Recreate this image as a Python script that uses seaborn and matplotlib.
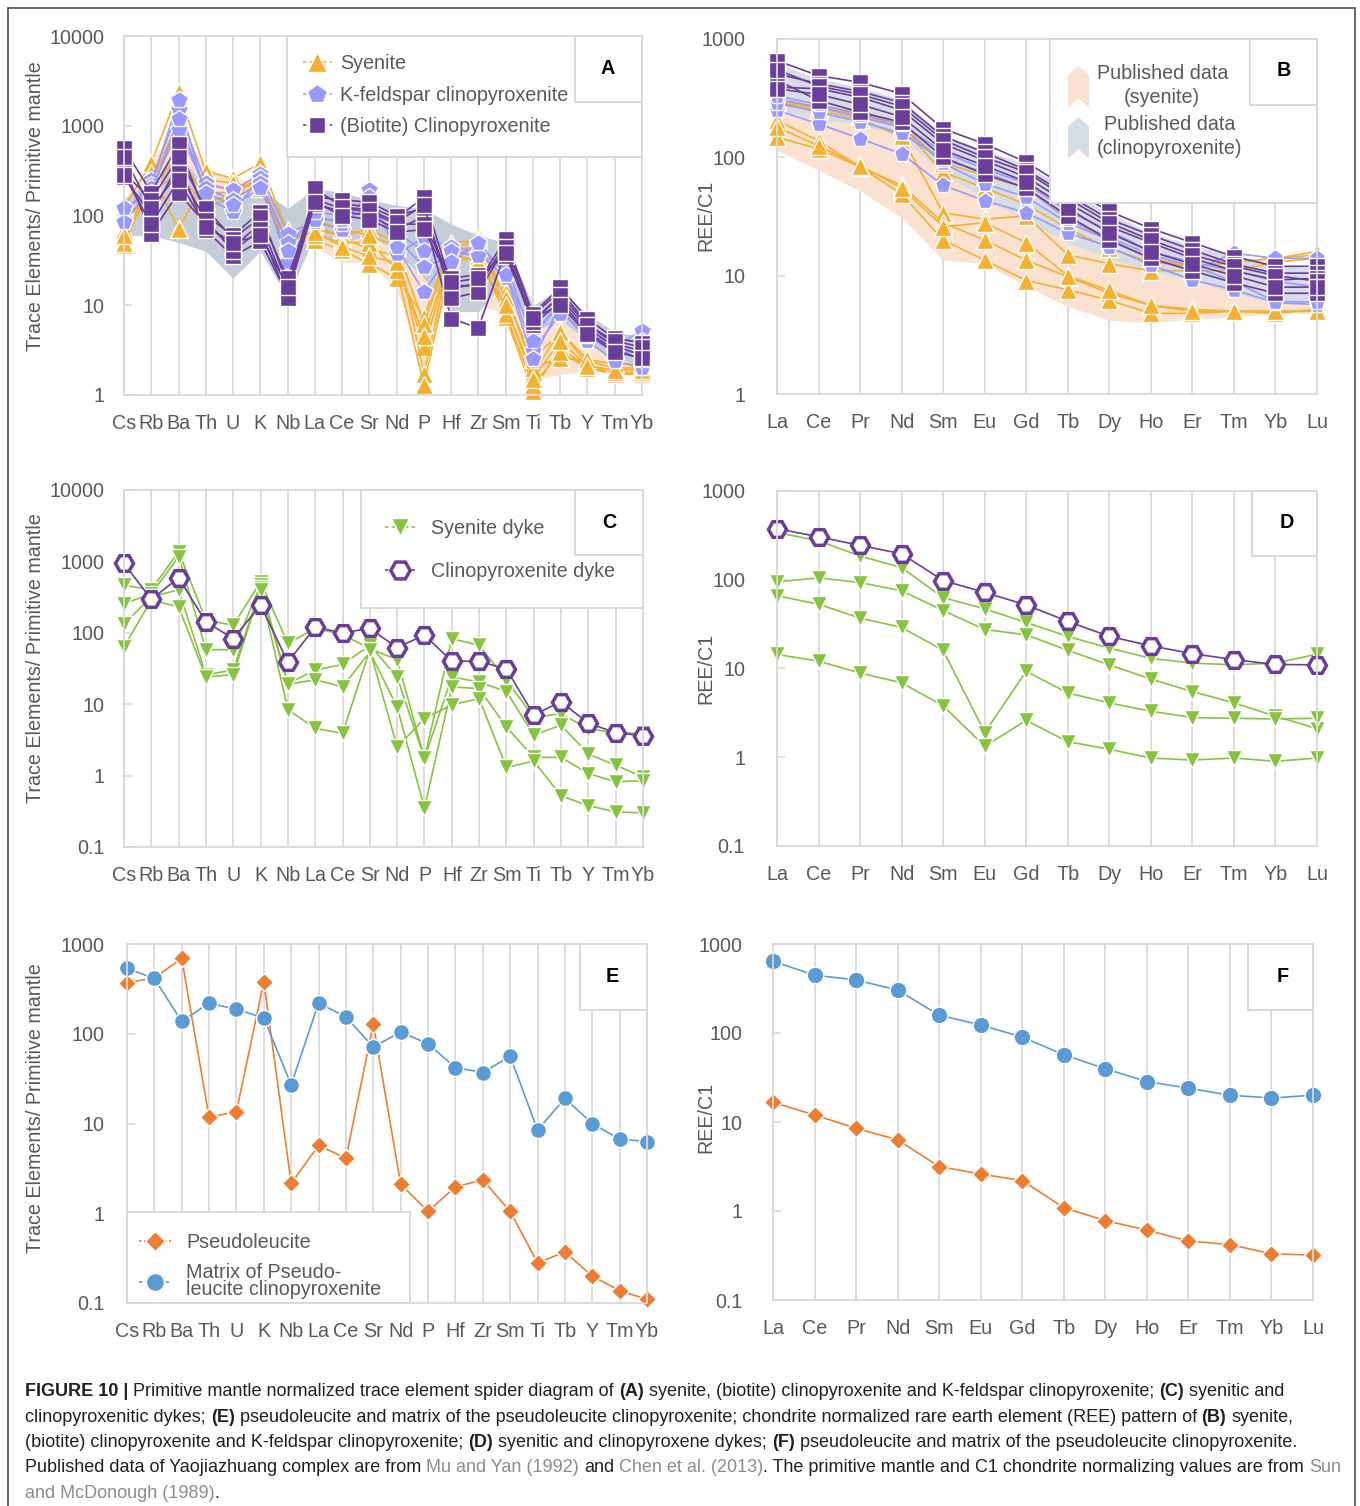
import numpy as np
import pandas as pd
import matplotlib
matplotlib.use('Agg')
import matplotlib.pyplot as plt
import seaborn as sns
from matplotlib.lines import Line2D
from matplotlib.patches import Rectangle
from matplotlib.path import Path
from matplotlib.ticker import FixedLocator, NullLocator

sns.set_theme(style='white')
plt.rcParams['font.family'] = ['Liberation Sans', 'DejaVu Sans']

W, H = 1360, 1506

# ---------------- categories ----------------
TRACE = ['Cs', 'Rb', 'Ba', 'Th', 'U', 'K', 'Nb', 'La', 'Ce', 'Sr', 'Nd', 'P',
         'Hf', 'Zr', 'Sm', 'Ti', 'Tb', 'Y', 'Tm', 'Yb']
REE = ['La', 'Ce', 'Pr', 'Nd', 'Sm', 'Eu', 'Gd', 'Tb', 'Dy', 'Ho', 'Er', 'Tm', 'Yb', 'Lu']

# ---------------- panel A (primitive-mantle normalised) ----------------
a_syenite = [
    [125, 380, 2400, 310, 260, 380, 69, 53, 41, 29, 20, 7.4, 49, 53, 9.5, 1.7, 5.2, 2.2, 1.7, 1.7],
    [69, 250, 900, 210, 200, 240, 45, 80, 55, 43, 35, 3.4, 35, 40, 7.4, 1.1, 3.4, 2.0, 1.7, 1.8],
    [58, 200, 270, 135, 150, 300, 37, 70, 60, 70, 50, 1.7, 40, 45, 14, 2.0, 2.6, 2.4, 2.0, 2.0],
    [47, 300, 71, 250, 230, 200, 40, 60, 50, 50, 25, 1.3, 30, 35, 8, 1.3, 3.0, 2.0, 1.8, 1.8],
    [50, 220, 1200, 180, 180, 260, 50, 90, 70, 60, 45, 6.2, 45, 50, 12, 2.5, 5.0, 2.5, 2.2, 2.2],
    [60, 180, 500, 150, 160, 220, 55, 65, 45, 35, 30, 4.5, 38, 30, 10, 1.5, 4.0, 2.1, 1.9, 1.9],
]
a_kfs = [
    [97, 250, 1500, 230, 190, 290, 63, 85, 69, 190, 37, 57, 45, 39, 20, 5.2, 9.5, 4.0, 2.4, 2.0],
    [110, 220, 1950, 160, 110, 260, 30, 100, 80, 130, 55, 27, 35, 45, 25, 3.1, 8.0, 5.0, 3.5, 5.2],
    [85, 200, 900, 200, 150, 230, 50, 90, 90, 160, 45, 14, 40, 35, 30, 4.0, 12, 4.5, 3.0, 3.0],
    [120, 180, 1200, 180, 130, 200, 40, 110, 100, 110, 65, 40, 30, 50, 22, 2.5, 10, 5.5, 4.0, 4.0],
]
a_bcpx = [
    [560, 180, 620, 100, 60, 110, 17, 180, 135, 125, 93, 160, 17, 16, 49, 7.7, 14.5, 6.2, 3.7, 3.1],
    [270, 100, 380, 69, 35, 52, 13, 135, 110, 100, 70, 97, 7.1, 5.6, 40, 6.0, 11, 5.0, 3.2, 2.5],
    [350, 63, 180, 80, 45, 80, 15, 160, 150, 140, 100, 120, 15, 18, 55, 8.0, 16, 7.0, 4.3, 3.8],
    [300, 150, 450, 120, 55, 95, 20, 150, 120, 110, 80, 80, 20, 22, 35, 7.0, 12, 5.5, 3.5, 2.8],
    [450, 120, 300, 90, 40, 70, 12, 200, 125, 115, 85, 130, 12, 14, 45, 6.5, 13, 6.0, 4.0, 3.4],
    [280, 80, 250, 75, 50, 60, 16, 140, 100, 90, 65, 70, 18, 20, 38, 7.2, 10, 4.8, 3.0, 2.6],
]
a_pub_sye_hi = [150, 400, 1000, 350, 250, 250, 70, 150, 120, 110, 70, 30, 50, 70, 30, 6, 10, 6, 3.5, 3.5]
a_pub_sye_lo = [60, 120, 150, 60, 50, 70, 40, 45, 30, 30, 15, 2, 20, 10, 8, 1.5, 1.7, 1.8, 1.9, 1.9]
a_pub_cpx_hi = [150, 250, 500, 200, 150, 200, 120, 200, 180, 150, 130, 120, 80, 60, 50, 10, 15, 8, 5, 4.5]
a_pub_cpx_lo = [60, 60, 50, 40, 20, 40, 12, 60, 50, 60, 40, 20, 8.5, 8.5, 20, 5, 7, 4, 2.5, 2.2]

# ---------------- panel B (chondrite normalised) ----------------
b_syenite = [
    [290, 260, 230, 180, 75, 55, 40, 25, 17, 13, 12, 13, 14, 15],
    [280, 250, 210, 150, 34, 30, 32, 15, 12.6, 11, 11, 11, 13, 14],
    [205, 138, 83, 58, 28, 20, 13.5, 9.8, 7.1, 5.6, 5.2, 5.0, 5.0, 5.0],
    [148, 118, 83, 49, 20, 13.5, 9.1, 7.6, 6.2, 4.8, 4.8, 5.0, 4.8, 5.2],
    [180, 125, 85, 55, 26, 28, 19, 10, 7.5, 5.6, 5.0, 5.0, 5.0, 5.0],
    [300, 270, 240, 190, 90, 70, 55, 30, 20, 14, 12, 13, 14, 16],
]
b_kfs = [
    [250, 192, 144, 107, 58, 43, 34, 23, 17.5, 12.3, 9.2, 7.6, 5.9, 5.7],
    [312, 265, 218, 180, 89, 60, 46, 28, 20, 14, 11, 15.5, 14, 14],
    [290, 240, 200, 160, 95, 75, 55, 30, 21, 15, 12, 9, 6, 6],
    [330, 280, 230, 190, 110, 80, 60, 35, 24, 16, 13, 11, 9, 8],
]
b_bcpx = [
    [656, 490, 430, 345, 174, 130, 91, 55, 35, 25, 19, 14.5, 12, 12],
    [507, 420, 360, 290, 150, 110, 78, 48, 30, 22, 16.5, 12.5, 10.5, 10.5],
    [392, 380, 322, 250, 130, 94, 68, 41, 26, 19, 14, 11, 9.2, 9.5],
    [450, 302, 241, 198, 100, 72, 55, 32, 20, 14, 11, 8.7, 7.1, 7.1],
    [550, 400, 340, 270, 140, 100, 75, 45, 28, 20, 15, 12, 10, 9],
    [380, 340, 280, 220, 115, 85, 62, 37, 23, 16, 12.5, 10, 8, 8],
]
b_pub_sye_hi = [300, 260, 220, 170, 70, 50, 38, 22, 15, 12, 10.5, 10, 10, 10]
b_pub_sye_lo = [115, 78, 52, 31, 13.5, 12.7, 8.1, 5.5, 4.2, 4.0, 4.3, 4.5, 4.8, 4.8]
b_pub_cpx_hi = [620, 460, 390, 310, 155, 115, 88, 52, 34, 23, 18, 15, 12.5, 11.5]
b_pub_cpx_lo = [250, 210, 190, 150, 72, 46, 29, 19, 14, 11, 9.2, 7.1, 5.9, 6.0]

# ---------------- panel C / D (dykes) ----------------
c_syenite_dyke = [
    [465, 400, 1370, 150, 128, 515, 71, 115, 95, 60, 42, 1.74, 83, 67, 22, 6.5, 7.4, 4.5, 4.0, 3.9],
    [257, 350, 1170, 58, 58, 465, 19.5, 30, 36, 67, 24, 1.74, 24, 20.5, 15, 3.7, 5.1, 2.0, 1.4, 0.95],
    [132, 320, 400, 26, 30, 420, 19, 22, 17.5, 54, 9.1, 0.35, 17.5, 16.5, 4.8, 1.8, 1.8, 1.07, 0.82, 0.85],
    [63, 290, 230, 24, 26, 400, 8.4, 4.6, 3.9, 58, 2.5, 6.3, 9.8, 12, 1.3, 1.6, 0.52, 0.38, 0.31, 0.30],
]
c_cpx_dyke = [935, 294, 590, 142, 83, 245, 39, 120, 100, 115, 62, 93, 40, 40, 31, 7.1, 10.8, 5.4, 4.0, 3.6]

d_syenite_dyke = [
    [340, 275, 185, 137, 63, 47, 33, 23, 17, 13, 11.5, 11, 11.5, 14.5],
    [95, 105, 93, 75, 45, 27.5, 24, 16, 11, 7.6, 5.5, 4.1, 2.9, 2.1],
    [66, 53, 37, 29, 16, 1.9, 9.3, 5.3, 4.1, 3.3, 2.8, 2.75, 2.7, 2.75],
    [14.4, 12.1, 8.9, 6.9, 3.8, 1.33, 2.6, 1.5, 1.23, 0.98, 0.93, 0.98, 0.9, 0.98],
]
d_cpx_dyke = [376, 305, 244, 196, 98, 72, 52, 34, 23, 18, 14.7, 12.6, 11.1, 11]

# ---------------- panel E / F (pseudoleucite) ----------------
e_pseudoleucite = [370, 420, 690, 11.7, 13.6, 380, 2.15, 5.7, 4.1, 129, 2.1, 1.05, 1.97, 2.35, 1.05,
                   0.28, 0.37, 0.20, 0.137, 0.11]
e_matrix = [534, 413, 137, 220, 187, 150, 27, 220, 154, 71, 105, 77, 42, 37, 56, 8.5, 19, 10, 6.7, 6.3]
f_pseudoleucite = [16.6, 12, 8.5, 6.3, 3.16, 2.6, 2.2, 1.09, 0.78, 0.61, 0.46, 0.42, 0.33, 0.32]
f_matrix = [640, 446, 395, 303, 159, 123, 90, 57, 39.6, 28.5, 24, 20, 18.6, 20]

# ---------------- styles ----------------
ORANGE = '#F5B02E'
LAV = '#9999FF'
PURPLE = '#6A3D9A'
GREEN = '#86C440'
E_OR = '#ED7D31'
E_BL = '#5B9BD5'
PEACH = '#FAE1D0'
GRAYA = '#C5CDD6'
GRAYB = '#D6DDE5'
GRID = '#D9D9D9'
TXT = '#595959'
FS = 14.2

fig = plt.figure(figsize=(W / 100, H / 100), dpi=100)


def px_ax(l, t, r, b):
    return fig.add_axes([l / W, 1 - b / H, (r - l) / W, (b - t) / H])


def long_df(samples, elements):
    rows = []
    for i, s in enumerate(samples):
        for j, v in enumerate(s):
            rows.append({'sample': i, 'pos': j, 'element': elements[j], 'value': v})
    return pd.DataFrame(rows)


def draw_group(ax, samples, elements, color, marker, ms, mfc=None, mec='white', mew=1.0, lw=1.2):
    df = long_df(samples, elements)
    kws = dict(marker=marker, markersize=ms, markeredgecolor=mec, markeredgewidth=mew,
               linewidth=lw)
    if mfc is not None:
        kws['markerfacecolor'] = mfc
    sns.lineplot(data=df, x='pos', y='value', units='sample', estimator=None, sort=False,
                 color=color, legend=False, ax=ax, **kws)


def style_ax(ax, elements, ylo, yhi, ypad):
    n = len(elements)
    ax.set_yscale('log')
    ax.set_xlim(0, n - 1)
    ax.set_ylim(ylo, yhi)
    ax.set_xticks(range(n))
    ax.set_xticklabels(elements)
    ticks = [10.0 ** k for k in range(int(round(np.log10(ylo))), int(round(np.log10(yhi))) + 1)]
    ax.yaxis.set_major_locator(FixedLocator(ticks))
    ax.yaxis.set_minor_locator(NullLocator())
    ax.set_yticklabels([('%g' % t) for t in ticks])
    ax.tick_params(axis='x', length=0, pad=14, labelsize=FS, labelcolor=TXT)
    ax.tick_params(axis='y', direction='in', length=6, width=1.2, color=GRID, pad=ypad,
                   labelsize=FS, labelcolor=TXT, left=True)
    ax.grid(False)
    ax.grid(axis='x', color=GRID, linewidth=1.3)
    for sp in ax.spines.values():
        sp.set_color(GRID)
        sp.set_linewidth(1.3)
    ax.set_xlabel('')
    ax.set_ylabel('')
    for ln in ax.lines:
        ln.set_clip_on(False)


def fig_rect(ax, l, t, r, b, z=4):
    rect = Rectangle((l / W, 1 - b / H), (r - l) / W, (b - t) / H, transform=fig.transFigure,
                     facecolor='white', edgecolor=GRID, linewidth=1.4, zorder=z, clip_on=False)
    ax.add_artist(rect)


def letter(ax, s, x, y):
    ax.text(x / W, 1 - y / H, s, transform=fig.transFigure, ha='center', va='center',
            fontsize=FS, fontweight='bold', color='black', zorder=7)


def ylab(s, x, y):
    fig.text(x / W, 1 - y / H, s, rotation=90, ha='center', va='center', fontsize=FS, color=TXT)


def place_legend(ax, handles, labels, x, y, **kw):
    leg = ax.legend(handles, labels, loc='center left', bbox_to_anchor=(x / W, 1 - y / H),
                    bbox_transform=fig.transFigure, frameon=False, fontsize=FS, borderpad=0,
                    borderaxespad=0, numpoints=1, **kw)
    leg.set_zorder(8)
    for t in leg.get_texts():
        t.set_color(TXT)
    return leg


# ====================== Panel A ======================
axA = px_ax(124, 36, 642, 395)
xa = np.arange(len(TRACE))
axA.fill_between(xa, a_pub_sye_lo, a_pub_sye_hi, color=PEACH, lw=0, zorder=1)
axA.fill_between(xa, a_pub_cpx_lo, a_pub_cpx_hi, color=GRAYA, lw=0, zorder=1.1)
draw_group(axA, a_syenite, TRACE, ORANGE, '^', 12.5)
draw_group(axA, a_kfs, TRACE, LAV, 'p', 13)
draw_group(axA, a_bcpx, TRACE, PURPLE, 's', 11)
style_ax(axA, TRACE, 1, 10000, 14)
fig_rect(axA, 287, 36, 642, 157)
fig_rect(axA, 575, 36, 642, 102, z=4.5)
letter(axA, 'A', 608, 69)
hA = [Line2D([], [], color=ORANGE, ls=(0, (2, 2)), lw=1.2, marker='^', ms=14, mec='white', mew=1),
      Line2D([], [], color=LAV, ls=(0, (2, 2)), lw=1.2, marker='p', ms=15, mec='white', mew=1),
      Line2D([], [], color=PURPLE, ls=(0, (2, 2)), lw=1.2, marker='s', ms=12, mec='white', mew=1)]
place_legend(axA, hA, ['Syenite', 'K-feldspar clinopyroxenite', '(Biotite) Clinopyroxenite'],
             303, 95, handlelength=1.45, handletextpad=0.45, labelspacing=0.62)
ylab('Trace Elements/ Primitive mantle', 36, 206)

# ====================== Panel B ======================
axB = px_ax(777, 39, 1317, 394)
xb = np.arange(len(REE))
axB.fill_between(xb, b_pub_sye_lo, b_pub_sye_hi, color=PEACH, lw=0, zorder=1)
axB.fill_between(xb, b_pub_cpx_lo, b_pub_cpx_hi, color=GRAYB, lw=0, zorder=1.1)
draw_group(axB, b_syenite, REE, ORANGE, '^', 13)
draw_group(axB, b_kfs, REE, LAV, 'p', 12.5)
draw_group(axB, b_bcpx, REE, PURPLE, 's', 11.5)
style_ax(axB, REE, 1, 1000, 23)
fig_rect(axB, 1050, 39, 1317, 203)
fig_rect(axB, 1250, 39, 1317, 105, z=4.5)
letter(axB, 'B', 1284, 71)
chev = Path([(-0.5, 0.55), (0.0, 1.0), (0.5, 0.55), (0.5, -1.0), (0.0, -0.55), (-0.5, -1.0), (-0.5, 0.55)],
            [Path.MOVETO] + [Path.LINETO] * 5 + [Path.CLOSEPOLY])
hB = [Line2D([], [], ls='none', marker=chev, ms=28, color=PEACH, mec=PEACH),
      Line2D([], [], ls='none', marker=chev, ms=28, color=GRAYB, mec=GRAYB)]
legB = place_legend(axB, hB, ['Published data\n(syenite)', 'Published data\n(clinopyroxenite)'],
                    1066, 111, handlelength=1.2, handletextpad=0.35, labelspacing=0.45)
for t in legB.get_texts():
    t.set_multialignment('center')
    t.set_linespacing(1.28)
ylab('REE/C1', 706, 215)

# ====================== Panel C ======================
axC = px_ax(124, 490, 643, 847)
draw_group(axC, c_syenite_dyke, TRACE, GREEN, 'v', 11.5)
draw_group(axC, [c_cpx_dyke], TRACE, PURPLE, 'H', 13, mfc='white', mec=PURPLE, mew=2.5)
style_ax(axC, TRACE, 0.1, 10000, 14)
fig_rect(axC, 361, 490, 643, 608)
fig_rect(axC, 575, 490, 643, 555, z=4.5)
letter(axC, 'C', 609, 522)
hC = [Line2D([], [], color=GREEN, ls=(0, (2, 2)), lw=1.2, marker='v', ms=13, mec='white', mew=1),
      Line2D([], [], color=PURPLE, ls=(0, (2, 2)), lw=1.2, marker='H', ms=14, mfc='white',
             mec=PURPLE, mew=2.5)]
place_legend(axC, hC, ['Syenite dyke', 'Clinopyroxenite dyke'], 385, 550,
             handlelength=1.5, handletextpad=0.85, labelspacing=1.2)
ylab('Trace Elements/ Primitive mantle', 36, 658)

# ====================== Panel D ======================
axD = px_ax(777, 491, 1317, 846)
draw_group(axD, d_syenite_dyke, REE, GREEN, 'v', 12)
draw_group(axD, [d_cpx_dyke], REE, PURPLE, 'H', 13, mfc='white', mec=PURPLE, mew=2.5)
style_ax(axD, REE, 0.1, 1000, 23)
fig_rect(axD, 1252, 491, 1317, 556, z=4.5)
letter(axD, 'D', 1287, 523)
ylab('REE/C1', 706, 668)

# ====================== Panel E ======================
axE = px_ax(127, 944, 647, 1303)
draw_group(axE, [e_pseudoleucite], TRACE, E_OR, 'D', 8.8)
draw_group(axE, [e_matrix], TRACE, E_BL, 'o', 11.5)
style_ax(axE, TRACE, 0.1, 1000, 16)
fig_rect(axE, 580, 944, 647, 1010, z=4.5)
letter(axE, 'E', 612, 976)
fig_rect(axE, 127, 1212, 410, 1303)
hE = [Line2D([], [], color=E_OR, ls=(0, (1.5, 1.5)), lw=1.2, marker='D', ms=10, mec='white', mew=1),
      Line2D([], [], color=E_BL, ls=(0, (2, 2)), lw=1.2, marker='o', ms=13, mec='white', mew=1)]
legE = place_legend(axE, hE, ['Pseudoleucite', 'Matrix of Pseudo-\nleucite clinopyroxenite'],
                    139, 1266, handlelength=1.6, handletextpad=0.8, labelspacing=0.55)
for t in legE.get_texts():
    t.set_linespacing(0.85)
ylab('Trace Elements/ Primitive mantle', 36, 1108)

# ====================== Panel F ======================
axF = px_ax(773, 944, 1313, 1300)
draw_group(axF, [f_pseudoleucite], REE, E_OR, 'D', 9.4)
draw_group(axF, [f_matrix], REE, E_BL, 'o', 12)
style_ax(axF, REE, 0.1, 1000, 22)
fig_rect(axF, 1248, 944, 1313, 1010, z=4.5)
letter(axF, 'F', 1283, 976)
ylab('REE/C1', 706, 1117)

# ====================== figure frame ======================
FR = '#4D4D4D'
fig.add_artist(Line2D([8 / W, 8 / W], [0, 1 - 8 / H], color=FR, lw=1.2, transform=fig.transFigure))
fig.add_artist(Line2D([8 / W, 1355 / W], [1 - 8 / H, 1 - 8 / H], color=FR, lw=1.2, transform=fig.transFigure))
fig.add_artist(Line2D([1355 / W, 1355 / W], [0, 1 - 8 / H], color=FR, lw=1.2, transform=fig.transFigure))

# ====================== caption ======================
CAP = '#231F20'
LINK = '#8C8C8C'
caption = [
    [("FIGURE 10 | ", 'bold', CAP), ("Primitive mantle normalized trace element spider diagram of ", 'normal', CAP),
     ("(A)", 'bold', CAP), (" syenite, (biotite) clinopyroxenite and K-feldspar clinopyroxenite; ", 'normal', CAP),
     ("(C)", 'bold', CAP), (" syenitic and", 'normal', CAP)],
    [("clinopyroxenitic dykes; ", 'normal', CAP), ("(E)", 'bold', CAP),
     (" pseudoleucite and matrix of the pseudoleucite clinopyroxenite; chondrite normalized rare earth element (REE) pattern of ", 'normal', CAP),
     ("(B)", 'bold', CAP), (" syenite,", 'normal', CAP)],
    [("(biotite) clinopyroxenite and K-feldspar clinopyroxenite; ", 'normal', CAP), ("(D)", 'bold', CAP),
     (" syenitic and clinopyroxene dykes; ", 'normal', CAP), ("(F)", 'bold', CAP),
     (" pseudoleucite and matrix of the pseudoleucite clinopyroxenite.", 'normal', CAP)],
    [("Published data of Yaojiazhuang complex are from ", 'normal', CAP), ("Mu and Yan (1992)", 'normal', LINK),
     (" and ", 'normal', CAP), ("Chen et al. (2013)", 'normal', LINK),
     (". The primitive mantle and C1 chondrite normalizing values are from ", 'normal', CAP), ("Sun", 'normal', LINK)],
    [("and McDonough (1989)", 'normal', LINK), (".", 'normal', CAP)],
]

renderer = fig.canvas.get_renderer()


def text_w(s, weight, fs):
    if s == '':
        return 0.0
    t = fig.text(0, 0, s, fontsize=fs, fontweight=weight)
    w = t.get_window_extent(renderer).width
    t.remove()
    return w


def space_w(weight, fs):
    return text_w('x x', weight, fs) - text_w('xx', weight, fs)


def seg_width(seg, fs):
    s, weight, _ = seg
    core = s.strip(' ')
    lead = len(s) - len(s.lstrip(' '))
    trail = len(s) - len(s.rstrip(' '))
    sw = space_w(weight, fs)
    return lead * sw, text_w(core, weight, fs), trail * sw


base_fs = 12.0
tot = sum(sum(seg_width(sg, base_fs)) for sg in caption[0])
cap_fs = base_fs * (1257.0 / tot)

baselines = [1396, 1421.5, 1447, 1472.5, 1498]
for line, yb in zip(caption, baselines):
    x = 25.0
    for seg in line:
        lead, core_w, trail = seg_width(seg, cap_fs)
        x += lead
        core = seg[0].strip(' ')
        if core:
            fig.text(x / W, 1 - yb / H, core, fontsize=cap_fs, fontweight=seg[1], color=seg[2],
                     ha='left', va='baseline')
        x += core_w + trail

fig.savefig('out.png', dpi=100, facecolor='white')
